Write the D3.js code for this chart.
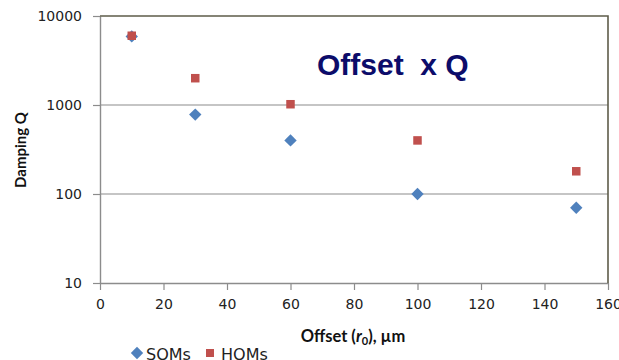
<!DOCTYPE html>
<html>
<head>
<meta charset="utf-8">
<script src="https://cdn.jsdelivr.net/npm/d3@7"></script>
<style>
  html, body { margin: 0; padding: 0; background: #fff; }
  svg { display: block; }
</style>
</head>
<body>
<svg id="chart" width="619" height="360"></svg>
<script>
// Offset (µm) of each measurement
const offsets = [10, 30, 60, 100, 150];
// Damping Q of second-order modes
const somValues = [5900, 780, 400, 100, 70];
// Damping Q of higher-order modes
const homValues = [6000, 2000, 1020, 400, 180];
const xTicks = [0, 20, 40, 60, 80, 100, 120, 140, 160];
const yTicks = [10, 100, 1000, 10000];

const svg = d3.select("#chart");
const plotLeft = 100, plotRight = 608, plotTop = 16, plotBottom = 283;

const x = d3.scaleLinear().domain([0, 160]).range([plotLeft, plotRight]);
const y = d3.scaleLog().domain([10, 10000]).range([plotBottom, plotTop]);

const tickFont = "DejaVu Sans, Verdana, sans-serif";
const labelFont = "Lato, 'Open Sans', sans-serif";

// horizontal gridlines
svg.append("g")
  .selectAll("line")
  .data(yTicks.filter(d => d > 10 && d < 10000))
  .join("line")
  .attr("x1", plotLeft).attr("x2", plotRight)
  .attr("y1", d => y(d)).attr("y2", d => y(d))
  .attr("stroke", "#8c8c8c").attr("stroke-width", 1.2);

// left axis
const yAxis = svg.append("g")
  .attr("transform", `translate(${plotLeft},0)`)
  .call(d3.axisLeft(y).tickValues(yTicks).tickFormat(d3.format("d")).tickSizeInner(7).tickSizeOuter(0).tickPadding(11));
yAxis.select(".domain").attr("stroke", "#8c8c8c").attr("stroke-width", 1.4);
yAxis.selectAll(".tick line").attr("stroke", "#8c8c8c").attr("stroke-width", 1.2);
yAxis.selectAll(".tick text")
  .attr("font-family", tickFont).attr("font-size", 14).attr("fill", "#222");

// bottom axis
const xAxis = svg.append("g")
  .attr("transform", `translate(0,${plotBottom})`)
  .call(d3.axisBottom(x).tickValues(xTicks).tickSizeInner(7).tickSizeOuter(0).tickPadding(9));
xAxis.select(".domain").attr("stroke", "#8c8c8c").attr("stroke-width", 1.4);
xAxis.selectAll(".tick line").attr("stroke", "#8c8c8c").attr("stroke-width", 1.2);
xAxis.selectAll(".tick text")
  .attr("font-family", tickFont).attr("font-size", 14).attr("fill", "#222");

// top and right border of the plot area
svg.append("path")
  .attr("d", `M${plotLeft},${y(10000)}H${plotRight}V${plotBottom}`)
  .attr("fill", "none").attr("stroke", "#5e5c4a").attr("stroke-width", 1.6);

// series markers
const diamond = d3.symbol().type(d3.symbolDiamond2).size(98);
svg.append("g").selectAll("path")
  .data(offsets.map((o, i) => [o, somValues[i]]))
  .join("path")
  .attr("d", diamond)
  .attr("transform", d => `translate(${x(d[0])},${y(d[1])})`)
  .attr("fill", "#4f81bd");

svg.append("g").selectAll("rect")
  .data(offsets.map((o, i) => [o, homValues[i]]))
  .join("rect")
  .attr("x", d => x(d[0]) - 4.25).attr("y", d => y(d[1]) - 4.25)
  .attr("width", 8.5).attr("height", 8.5)
  .attr("fill", "#c0504d");

// title inside the plot
svg.append("text")
  .attr("x", 317).attr("y", 75)
  .attr("font-family", "Liberation Sans, Arial, sans-serif")
  .attr("font-weight", "bold").attr("font-size", 30)
  .attr("fill", "#0c0c6a")
  .attr("xml:space", "preserve")
  .text("Offset  x Q");

// axis titles
svg.append("text")
  .attr("transform", "translate(26,150) rotate(-90)")
  .attr("text-anchor", "middle")
  .attr("font-family", labelFont).attr("font-weight", "bold").attr("font-size", 15)
  .attr("fill", "#111")
  .text("Damping Q");

const xt = svg.append("text")
  .attr("x", 353).attr("y", 342)
  .attr("text-anchor", "middle")
  .attr("font-family", labelFont).attr("font-weight", "bold").attr("font-size", 16.5)
  .attr("fill", "#111");
xt.append("tspan").text("Offset (");
xt.append("tspan").attr("font-style", "italic").text("r");
xt.append("tspan").attr("font-size", 11).attr("dy", 3).text("0");
xt.append("tspan").attr("dy", -3).text("), µm");

// legend
const lg = svg.append("g");
lg.append("path").attr("d", diamond).attr("transform", "translate(137,353)").attr("fill", "#4f81bd");
lg.append("text").attr("x", 146).attr("y", 360)
  .attr("font-family", tickFont).attr("font-size", 16).attr("fill", "#222").text("SOMs");
lg.append("rect").attr("x", 206).attr("y", 349).attr("width", 8).attr("height", 8).attr("fill", "#c0504d");
lg.append("text").attr("x", 221).attr("y", 360)
  .attr("font-family", tickFont).attr("font-size", 16).attr("fill", "#222").text("HOMs");
</script>
</body>
</html>
